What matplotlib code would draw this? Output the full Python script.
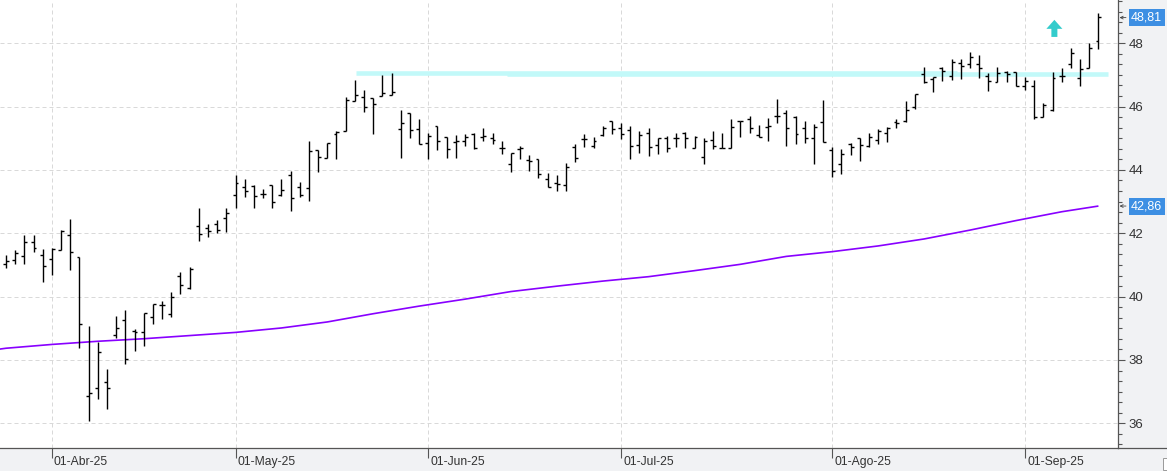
import numpy as np
import pandas as pd
import matplotlib
matplotlib.use('Agg')
import matplotlib.pyplot as plt
import matplotlib.transforms as mtransforms
from matplotlib.patches import FancyArrow, Rectangle
from matplotlib.lines import Line2D
from matplotlib.ticker import MultipleLocator, FixedLocator

plt.rcParams['font.family'] = ['Liberation Sans', 'DejaVu Sans']

# ---------------- data ----------------
holidays = ['2025-04-18', '2025-04-21', '2025-05-01']
dates = pd.bdate_range('2025-03-25', '2025-09-11')
dates = dates[~dates.isin(pd.to_datetime(holidays))]

opens = [41.02, 41.15, 41.28, 41.74, 41.31, 41.18, 41.48, 41.94, 41.24, 36.87,
         37.13, 37.29, 38.79, 39.26, 38.91, 38.87, 39.35, 39.73, 39.44, 40.64,
         40.26, 42.23, 42.17, 42.29, 42.47, 43.20, 43.47, 43.49, 43.23, 43.51,
         43.20, 43.84, 43.47, 43.43, 44.63, 44.39, 45.12, 45.23, 46.19, 46.29,
         46.26, 46.33, 46.37, 45.28, 45.81, 45.28, 44.84, 45.40, 45.03, 44.89,
         44.91, 45.13, 45.03, 45.00, 44.68, 44.18, 44.65, 44.31, 44.34, 43.71,
         43.58, 43.52, 44.71, 44.98, 44.75, 45.10, 45.54, 45.33, 45.26, 44.79,
         45.16, 44.79, 45.00, 45.00, 45.16, 44.70, 44.40, 44.95, 44.70, 44.68,
         45.55, 45.60, 45.10, 45.37, 45.71, 45.79, 45.68, 45.31, 45.02, 45.52,
         44.63, 44.19, 44.82, 45.02, 44.77, 44.95, 45.16, 45.50, 45.55, 45.98,
         47.03, 46.87, 47.21, 46.97, 47.39, 47.33, 47.34, 46.97, 46.79, 47.08,
         47.10, 46.65, 46.65, 45.68, 45.89, 46.98, 47.34, 46.89, 47.23, 48.07]
highs = [41.31, 41.47, 41.94, 41.94, 41.49, 41.52, 42.10, 42.45, 41.24, 39.07,
         38.58, 37.71, 39.39, 39.58, 38.98, 39.47, 39.77, 39.87, 40.16, 40.79,
         40.92, 42.79, 42.29, 42.42, 42.79, 43.84, 43.71, 43.51, 43.40, 43.51,
         43.71, 43.97, 43.63, 44.91, 44.63, 44.84, 45.23, 46.29, 46.84, 46.52,
         46.26, 47.00, 47.07, 45.89, 45.81, 45.60, 45.18, 45.40, 45.03, 45.10,
         45.15, 45.18, 45.31, 45.18, 44.91, 44.55, 44.77, 44.47, 44.34, 43.89,
         43.84, 44.21, 44.81, 45.12, 45.03, 45.39, 45.54, 45.49, 45.39, 45.23,
         45.31, 45.02, 45.07, 45.16, 45.21, 45.07, 45.02, 45.23, 45.16, 45.60,
         45.55, 45.70, 45.42, 45.65, 46.24, 45.89, 45.70, 45.55, 45.44, 46.21,
         44.74, 44.66, 44.84, 45.02, 45.16, 45.28, 45.35, 45.61, 46.19, 46.39,
         47.26, 46.95, 47.26, 47.49, 47.49, 47.71, 47.63, 47.07, 47.26, 47.13,
         47.10, 46.92, 46.84, 46.10, 47.10, 47.23, 47.84, 47.50, 48.02, 48.94]
lows = [40.91, 41.02, 41.02, 41.40, 40.47, 40.69, 41.47, 40.85, 38.39, 36.08,
        36.77, 36.45, 38.68, 37.86, 38.29, 38.45, 39.13, 39.30, 39.35, 40.08,
        40.23, 41.77, 41.89, 42.00, 42.05, 42.81, 43.16, 42.81, 43.12, 42.79,
        43.19, 42.71, 43.16, 43.03, 43.94, 44.37, 44.34, 45.23, 46.19, 45.84,
        45.15, 46.33, 46.37, 44.39, 45.02, 44.81, 44.33, 44.63, 44.39, 44.39,
        44.77, 44.65, 44.91, 44.81, 44.49, 43.94, 44.33, 43.97, 43.73, 43.45,
        43.33, 43.33, 44.24, 44.71, 44.68, 45.07, 45.15, 44.98, 44.35, 44.52,
        44.44, 44.49, 44.56, 44.74, 44.70, 44.70, 44.18, 44.65, 44.68, 44.68,
        45.05, 45.16, 45.03, 44.92, 45.47, 44.77, 44.81, 44.84, 44.18, 44.89,
        43.79, 43.87, 44.47, 44.29, 44.71, 44.82, 44.89, 45.31, 45.50, 45.91,
        46.73, 46.47, 46.82, 46.84, 46.86, 47.23, 46.89, 46.49, 46.77, 46.77,
        46.66, 46.52, 45.60, 45.68, 45.87, 46.77, 47.21, 46.66, 47.23, 47.81]
closes = [41.12, 41.39, 41.71, 41.55, 40.96, 41.50, 42.07, 41.40, 39.12, 36.97,
          38.26, 37.13, 39.01, 38.02, 38.88, 39.47, 39.77, 39.73, 39.98, 40.36,
          40.87, 41.98, 42.08, 42.09, 42.63, 43.58, 43.34, 43.17, 43.23, 42.98,
          43.37, 43.11, 43.20, 44.60, 44.40, 44.84, 45.20, 46.21, 46.37, 45.98,
          46.08, 46.42, 46.45, 45.49, 45.25, 44.83, 45.07, 44.91, 44.65, 44.91,
          45.05, 44.70, 45.07, 44.94, 44.70, 44.55, 44.68, 44.28, 43.86, 43.47,
          43.56, 44.10, 44.37, 44.98, 44.91, 45.31, 45.29, 45.13, 44.77, 45.10,
          44.71, 45.00, 44.70, 45.00, 45.02, 45.05, 44.91, 44.76, 44.68, 45.35,
          45.55, 45.31, 45.05, 45.40, 45.71, 45.31, 45.12, 45.02, 45.37, 44.89,
          43.98, 44.50, 44.74, 44.79, 45.05, 45.23, 45.34, 45.47, 45.89, 46.39,
          46.79, 46.92, 47.13, 47.42, 47.28, 47.58, 47.21, 46.82, 47.07, 47.03,
          46.66, 46.81, 45.68, 46.05, 46.91, 46.97, 47.68, 47.19, 47.86, 48.82]

# moving average (bar index, value)
ma_idx = [-1, 0, 5, 10, 15, 20, 25, 30, 35, 40, 45, 50, 55, 60, 65, 70, 75,
          80, 85, 90, 95, 100, 105, 110, 115, 119]
ma_val = [38.33, 38.37, 38.49, 38.59, 38.67, 38.77, 38.87, 39.01, 39.20, 39.46,
          39.70, 39.92, 40.16, 40.33, 40.49, 40.63, 40.82, 41.02, 41.27, 41.42,
          41.60, 41.82, 42.10, 42.40, 42.68, 42.86]

month_labels = ['01-Abr-25', '01-May-25', '01-Jun-25', '01-Jul-25', '01-Ago-25', '01-Sep-25']
month_numbers = [4, 5, 6, 7, 8, 9]

# horizontal resistance levels (value, start bar, end bar)
level_value = [47.07, 47.02]
level_start = [38.1, 54.6]
level_end = [103.6, 120.0]

last_close = 48.81
last_ma = 42.86
signal_idx = 114.2
signal_low = 48.20
signal_high = 48.74

yticks = [36, 38, 40, 42, 44, 46, 48]

# ---------------- figure ----------------
W, H = 1167, 471
fig = plt.figure(figsize=(W / 100, H / 100), dpi=100, facecolor='#f1f2f4')
ax = fig.add_axes([0, 23 / H, 1118 / W, 448 / H])
ax.set_facecolor('white')

n = len(closes)
x = np.arange(n)
ax.set_xlim(-0.654, 121.13)
ax.set_ylim(35.22, 49.366)

px_x = 1118 / (121.13 + 0.654)   # pixels per bar
px_y = 448 / (49.366 - 35.22)    # pixels per unit

# levels
ax.hlines(level_value, level_start, level_end, color='#c2f9f9', lw=3.3, zorder=1)

# moving average
ax.plot(ma_idx, ma_val, color='#8800ff', lw=1.2, zorder=2, solid_capstyle='butt')

# OHLC bars
tick = 0.32
ax.vlines(x, lows, highs, color='black', lw=1.0, zorder=3)
ax.hlines(opens, x - tick, x, color='black', lw=1.0, zorder=3)
ax.hlines(closes, x, x + tick, color='black', lw=1.0, zorder=3)

# signal arrow
ax.add_patch(FancyArrow(signal_idx, signal_low, 0, signal_high - signal_low,
                        width=6 / px_x, head_width=16 / px_x, head_length=9 / px_y,
                        length_includes_head=True, color='#33cccc', lw=0, zorder=4))

# grid
ax.set_axisbelow(True)
ax.grid(True, color='#d9d9d9', lw=0.72, linestyle=(0, (4, 3)))

# spines
for s in ['top', 'left']:
    ax.spines[s].set_visible(False)
for s in ['right', 'bottom']:
    ax.spines[s].set_color('#555555')
    ax.spines[s].set_linewidth(0.9)
fig.add_artist(Line2D([1118 / W, 1], [23 / H, 23 / H], transform=fig.transFigure,
                      color='#555555', lw=0.9))

# y axis on right
ax.yaxis.tick_right()
ax.yaxis.set_major_locator(FixedLocator(yticks))
ax.yaxis.set_minor_locator(MultipleLocator(1 / 3))
ax.set_yticklabels([str(v) for v in yticks])
ax.tick_params(axis='y', which='major', length=5, width=0.8, color='#555555',
               pad=2.5, labelsize=9.5, labelcolor='#333333')
ax.tick_params(axis='y', which='minor', length=2.6, width=0.8, color='#555555')

# x axis month ticks
month_pos = [int(np.where(dates.month == m)[0][0]) for m in month_numbers]
ax.set_xticks(month_pos)
ax.set_xticklabels(month_labels)
ax.tick_params(axis='x', which='major', length=7.2, width=0.8, color='#555555',
               pad=-1.6, labelsize=8.7, labelcolor='#333333')
offset = mtransforms.ScaledTranslation(2 / 100, 0, fig.dpi_scale_trans)
for lab in ax.get_xticklabels():
    lab.set_horizontalalignment('left')
    lab.set_transform(lab.get_transform() + offset)

# value boxes on right axis
ytrans = ax.get_yaxis_transform()
for v in [last_close, last_ma]:
    ax.text(1 + 13 / 1118, v, f"{v:.2f}".replace('.', ','), transform=ytrans,
            ha='left', va='center', fontsize=9, color='white', clip_on=False,
            bbox=dict(boxstyle='square,pad=0.2', fc='#3d8fe3', ec='none'))
    ax.annotate('', xy=(1 + 1.5 / 1118, v), xytext=(1 + 8 / 1118, v),
                xycoords=ytrans, textcoords=ytrans,
                arrowprops=dict(arrowstyle='->', lw=0.6, color='#444444',
                                mutation_scale=5, shrinkA=0, shrinkB=0),
                annotation_clip=False)

# small box in bottom-right corner
fig.add_artist(Rectangle((1163 / W, 1 / H), 6 / W, 12 / H, transform=fig.transFigure,
                         fc='white', ec='#9a9a9a', lw=0.7))

fig.savefig('out.png', dpi=100, facecolor=fig.get_facecolor())
